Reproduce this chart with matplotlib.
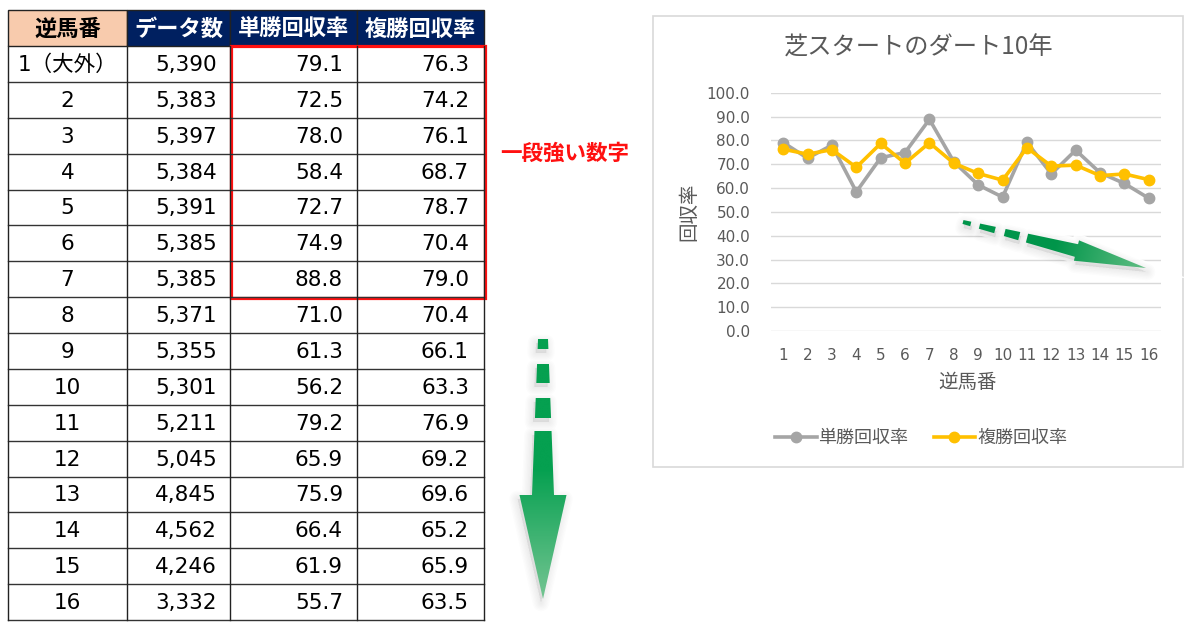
import numpy as np
import matplotlib
matplotlib.use("Agg")
import matplotlib.pyplot as plt
from matplotlib.patches import Rectangle, PathPatch
from matplotlib.path import Path
from matplotlib.colors import LinearSegmentedColormap

plt.rcParams['font.family'] = ['Noto Sans CJK JP', 'DejaVu Sans']

# データ
headers = ['逆馬番', 'データ数', '単勝回収率', '複勝回収率']
gate_labels = ['1（大外）', '2', '3', '4', '5', '6', '7', '8',
               '9', '10', '11', '12', '13', '14', '15', '16']
gates = np.arange(1, 17)
data_counts = [5390, 5383, 5397, 5384, 5391, 5385, 5385, 5371,
               5355, 5301, 5211, 5045, 4845, 4562, 4246, 3332]
win_rate = [79.1, 72.5, 78.0, 58.4, 72.7, 74.9, 88.8, 71.0,
            61.3, 56.2, 79.2, 65.9, 75.9, 66.4, 61.9, 55.7]
place_rate = [76.3, 74.2, 76.1, 68.7, 78.7, 70.4, 79.0, 70.4,
              66.1, 63.3, 76.9, 69.2, 69.6, 65.2, 65.9, 63.5]
chart_title = '芝スタートのダート10年'
note_text = '一段強い数字'

W, H = 1200, 634
fig = plt.figure(figsize=(12, 6.34), dpi=100)

# --- グラフ ---
ax = fig.add_axes([771 / W, 1 - 331 / H, 390 / W, (331 - 92.7) / H])
ax.set_zorder(1)
ax.plot(gates, win_rate, color='#A5A5A5', lw=2.6, marker='o', ms=7.5, label='単勝回収率')
ax.plot(gates, place_rate, color='#FFC000', lw=2.6, marker='o', ms=7.5, label='複勝回収率')
ax.set_xlim(0.5, 16.5)
ax.set_ylim(0, 100)
yt = np.arange(0, 101, 10)
ax.set_yticks(yt)
ax.set_yticklabels([f'{v:.1f}' for v in yt])
ax.set_xticks(gates)
ax.grid(axis='y', color='#D9D9D9', lw=1)
ax.set_axisbelow(True)
for s in ax.spines.values():
    s.set_visible(False)
ax.tick_params(length=0, colors='#595959', labelsize=11)
ax.tick_params(axis='y', pad=15)
ax.tick_params(axis='x', pad=12)
for lbl in ax.get_xticklabels() + ax.get_yticklabels():
    lbl.set_fontfamily('DejaVu Sans')

fig.legend(loc='center', bbox_to_anchor=(921 / W, 1 - 438 / H), ncol=2, frameon=False,
           fontsize=13, handlelength=2.3, handletextpad=0.1, columnspacing=1.4,
           labelcolor='#595959')

# --- 表と装飾 (ピクセル座標) ---
px = fig.add_axes([0, 0, 1, 1])
px.set_zorder(2)
px.patch.set_alpha(0)
px.axis('off')

px.add_patch(Rectangle((652.5, 16), 530.5, 451, fill=False, ec='#D9D9D9', lw=1.2))
px.text(919, 48, chart_title, fontsize=17.5, color='#595959', ha='center', va='center')
px.text(968, 383, '逆馬番', fontsize=14, color='#595959', ha='center', va='center')
px.text(689, 212, '回収率', fontsize=14, color='#595959', ha='center', va='center', rotation=90)

cols = [8, 127, 230, 357, 484]
top, head_h = 10, 36
row_h = (620 - 46) / 16
head_colors = ['#F8CBAD', '#002060', '#002060', '#002060']
head_text = ['black', 'white', 'white', 'white']
for i, h in enumerate(headers):
    px.add_patch(Rectangle((cols[i], top), cols[i + 1] - cols[i], head_h,
                           fc=head_colors[i], ec='#222222', lw=1))
    px.text((cols[i] + cols[i + 1]) / 2, top + head_h / 2 + 1, h, fontsize=16,
            fontweight='bold', color=head_text[i], ha='center', va='center')

y0 = top + head_h
num_font = ['DejaVu Sans', 'Noto Sans CJK JP']
for r in range(16):
    yc = y0 + (r + 0.5) * row_h + 1
    px.text((cols[0] + cols[1]) / 2, yc, gate_labels[r], fontsize=15.5,
            family=num_font, ha='center', va='center')
    px.text(cols[2] - 13, yc, f'{data_counts[r]:,}', fontsize=15.5,
            family=num_font, ha='right', va='center')
    px.text(cols[3] - 14, yc, f'{win_rate[r]:.1f}', fontsize=15.5,
            family=num_font, ha='right', va='center')
    px.text(cols[4] - 15, yc, f'{place_rate[r]:.1f}', fontsize=15.5,
            family=num_font, ha='right', va='center')
    px.plot([cols[0], cols[-1]], [y0 + (r + 1) * row_h] * 2, color='#333333', lw=1)
for c in cols:
    px.plot([c, c], [y0, y0 + 16 * row_h], color='#222222', lw=1)

px.add_patch(Rectangle((231, 46), 254, 7 * row_h + 1, fill=False, ec='#FF1010', lw=2.3))
px.text(500, 153, note_text, fontsize=15.5, fontweight='bold', color='#FF1010',
        ha='left', va='center')


def draw_arrow(axp, start, end, pieces, hw0, hw1, head_t, head_hw, c0, c1,
               shadow=(-3, 5), halo=False):
    start = np.array(start, float)
    end = np.array(end, float)
    L = np.hypot(*(end - start))
    d = (end - start) / L
    n = np.array([-d[1], d[0]])

    def hw(t):
        return hw0 + (hw1 - hw0) * t / head_t

    polys = []
    for t0, t1 in pieces:
        polys.append(np.array([start + d * t0 + n * hw(t0), start + d * t1 + n * hw(t1),
                               start + d * t1 - n * hw(t1), start + d * t0 - n * hw(t0)]))
    polys.append(np.array([start + d * head_t + n * head_hw, end,
                           start + d * head_t - n * head_hw]))
    path = Path.make_compound_path(*[Path(np.vstack([p, p[:1]]), closed=True) for p in polys])

    if halo:
        axp.add_patch(PathPatch(path, fc='white', ec='white', lw=9, alpha=0.9, zorder=3))
    # ぼかし影
    sh = Path.make_compound_path(*[Path(np.vstack([p, p[:1]]) + np.array(shadow), closed=True)
                                   for p in polys])
    for k in range(6):
        axp.add_patch(PathPatch(sh, fc='#000000', ec='#000000', lw=2 + k * 2.0,
                                alpha=0.012, joinstyle='round', zorder=4))

    allp = np.vstack(polys)
    xmin, ymin = allp.min(axis=0) - 2
    xmax, ymax = allp.max(axis=0) + 2
    X, Y = np.meshgrid(np.linspace(xmin, xmax, 200), np.linspace(ymin, ymax, 200))
    val = np.clip(((X - start[0]) * d[0] + (Y - start[1]) * d[1]) / L, 0, 1)
    cmap = LinearSegmentedColormap.from_list('g', [c0, c0, c1])
    im = axp.imshow(val, cmap=cmap, vmin=0, vmax=1, extent=(xmin, xmax, ymin, ymax),
                    origin='lower', aspect='auto', interpolation='bilinear', zorder=5)
    pp = PathPatch(path, transform=axp.transData, fc='none', ec='none')
    axp.add_patch(pp)
    im.set_clip_path(pp)


# 縦の矢印
draw_arrow(px, (543, 339), (543, 599), [(0, 10), (25, 44), (59, 79), (92, 157)],
           5, 11, 156, 23.5, '#05A050', '#74C592', shadow=(-2, 4))
# グラフ内の矢印
draw_arrow(px, (963, 222), (1146, 268), [(0, 8), (17, 33), (43, 58), (66, 118)],
           2, 6.5, 117, 10.5, '#00954A', '#62BE84', shadow=(1, 4), halo=True)

px.set_xlim(0, W)
px.set_ylim(H, 0)

fig.savefig('out.png', dpi=100)
